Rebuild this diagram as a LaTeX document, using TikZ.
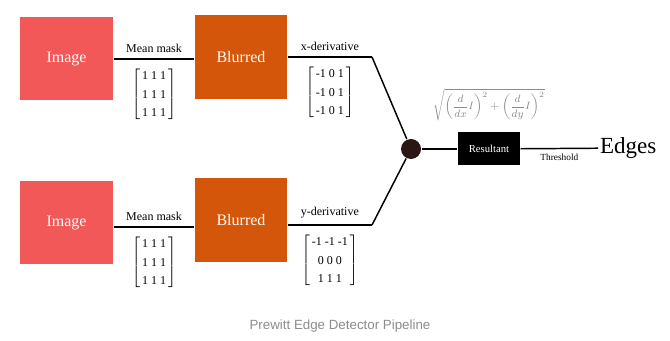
\documentclass[tikz,border=0pt]{standalone}
\usepackage{amsmath}
\usepackage{fontspec}
\setmainfont{Liberation Serif}
\setsansfont{Liberation Sans}
\usepackage{tikz}
\usetikzlibrary{positioning, calc}
\definecolor{imgred}{RGB}{242, 88, 88}
\definecolor{blurorange}{RGB}{212, 86, 10}
\definecolor{junctdark}{RGB}{42, 22, 18}
\newcommand{\kernmat}[3]{$\left[\renewcommand{\arraystretch}{1.25}\begin{tabular}{@{\,}c@{\,}}#1\\#2\\#3\end{tabular}\right]$}

\begin{document}
\begin{tikzpicture}[x=0.75pt, y=-0.75pt, font=\small, line width=1.1pt,
    imgbox/.style={fill=imgred, text=white, minimum width=69.75pt, minimum height=62.5pt, font=\large},
    blurbox/.style={fill=blurorange, text=white, minimum width=69pt, minimum height=62.5pt, font=\large},
    masklabel/.style={midway, above=1pt},
    maskmat/.style={midway, below=2pt, font=\small}]
  \useasboundingbox (0,0) rectangle (670,341);

  % upper branch
  \node[imgbox] (img1) at (66.5,58.5) {Image};
  \node[blurbox] (blur1) at (241,57) {Blurred};
  \coordinate (bend1) at (372,57);
  % lower branch
  \node[imgbox] (img2) at (66.5,222.5) {Image};
  \node[blurbox] (blur2) at (241,220) {Blurred};
  \coordinate (bend2) at (372,225);

  \node[circle, fill=junctdark, minimum size=15pt, inner sep=0pt] (junct) at (411,149) {};
  \node[fill=black, text=white, minimum width=46.5pt, minimum height=24.75pt, inner sep=1pt, font=\footnotesize] (result) at (489,149) {Resultant};
  \node[anchor=west, font=\LARGE, inner sep=1pt] (edges) at (598,148) {Edges};

  \draw (img1.east |- 0,59) -- (blur1.west |- 0,59)
    node[masklabel] {Mean mask}
    node[maskmat] {\kernmat{1 1 1}{1 1 1}{1 1 1}};
  \draw (blur1.east |- bend1) -- (bend1)
    node[masklabel] {x-derivative}
    node[maskmat] {\kernmat{-1 0 1}{-1 0 1}{-1 0 1}};
  \draw (bend1) -- (junct);

  \draw (img2.east |- 0,227) -- (blur2.west |- 0,227)
    node[masklabel] {Mean mask}
    node[maskmat] {\kernmat{1 1 1}{1 1 1}{1 1 1}};
  \draw (blur2.east |- bend2) -- (bend2)
    node[masklabel] {y-derivative}
    node[maskmat] {\kernmat{-1 -1 -1}{0 0 0}{1 1 1}};
  \draw (bend2) -- (junct);

  \draw (junct) -- (result);
  \draw (result) -- (edges) node[midway, below=0pt, font=\scriptsize] {Threshold};
  \node[above=4pt of result, text=black!45, font=\footnotesize] (formula)
    {$\displaystyle\sqrt{\left(\frac{d}{dx}I\right)^2+\left(\frac{d}{dy}I\right)^2}$};

  \node[font=\sffamily\normalsize, text=black!45] (caption) at (340,326) {Prewitt Edge Detector Pipeline};
\end{tikzpicture}
\end{document}
